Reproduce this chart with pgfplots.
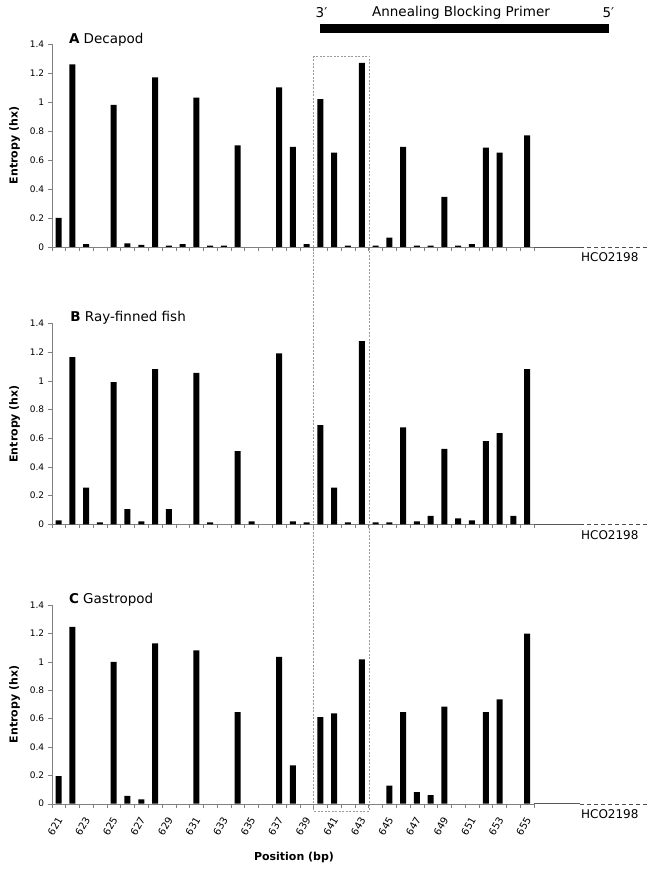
\documentclass[border=0pt]{standalone}
\usepackage{fontspec}
\setmainfont{DejaVu Sans}
\usepackage{pgfplots}
\pgfplotsset{compat=1.18}
\definecolor{axgray}{HTML}{808080}
\definecolor{boxgray}{HTML}{9A9A9A}

\pgfplotsset{
  panel/.style={
    scale only axis, width=482.3bp, anchor=south west,
    xmin=620.5, xmax=655.5, ymin=0, ymax=1.4,
    axis x line=bottom, axis y line=left,
    axis line style={-, axgray},
    xtick={620.5,621.5,...,655.5}, xticklabels={},
    ytick={0,0.2,0.4,0.6,0.8,1,1.2,1.4},
    tick align=outside, major tick length=4bp,
    tick style={axgray, thin},
    /pgf/number format/assume math mode=true,
    yticklabel style={font=\fontsize{9bp}{10bp}\selectfont},
    ylabel={Entropy (hx)},
    ylabel style={font=\fontsize{11bp}{13bp}\selectfont\bfseries,
      at={(axis description cs:-0.0771,0.5)}, anchor=center},
    ybar, bar width=6bp, clip=false,
  },
}
\tikzset{ttl/.style={anchor=west, font=\fontsize{13.5bp}{15bp}\selectfont}}

\begin{document}
\begin{tikzpicture}
\path[use as bounding box] (0,0) rectangle (652bp,870bp);

% A: Decapod
\begin{axis}[panel, at={(51.7bp,623bp)}, height=203bp]
\addplot[fill=black, draw=none] coordinates {
(621,0.20) (622,1.26) (623,0.02) (625,0.98) (626,0.025) (627,0.015)
(628,1.17) (629,0.01) (630,0.02) (631,1.03) (632,0.01) (633,0.01)
(634,0.70) (637,1.10) (638,0.69) (639,0.02) (640,1.02) (641,0.65)
(642,0.01) (643,1.27) (644,0.01) (645,0.065) (646,0.69) (647,0.01)
(648,0.01) (649,0.345) (650,0.01) (651,0.02) (652,0.685) (653,0.65)
(655,0.77)};
\node[ttl] at (axis cs:621.5,1.43) {\textbf{A} Decapod};
\draw[black!65, line width=0.8bp] (axis cs:655.5,0) -- (axis cs:658.84,0);
\draw[black!70, dash pattern=on 4bp off 3bp] (axis cs:658.84,0) -- (axis cs:663.7,0);
\node[anchor=east, font=\fontsize{12bp}{14bp}\selectfont] at (axis cs:663.34,-0.072) {HCO2198};
\draw[line width=9bp] (axis cs:640,1.505) -- (axis cs:660.94,1.505);
\node[font=\fontsize{13.5bp}{15bp}\selectfont] at (axis cs:640.08,1.614) {3′};
\node[font=\fontsize{13.5bp}{15bp}\selectfont] at (axis cs:650.2,1.614) {Annealing Blocking Primer};
\node[font=\fontsize{13.5bp}{15bp}\selectfont] at (axis cs:660.9,1.614) {5′};
\end{axis}

% B: Ray-finned fish
\begin{axis}[panel, at={(51.7bp,345.7bp)}, height=201bp]
\addplot[fill=black, draw=none] coordinates {
(621,0.028) (622,1.165) (623,0.255) (624,0.014) (625,0.99) (626,0.105)
(627,0.02) (628,1.08) (629,0.105) (631,1.055) (632,0.014) (634,0.51)
(635,0.02) (637,1.19) (638,0.02) (639,0.014) (640,0.69) (641,0.255)
(642,0.014) (643,1.275) (644,0.014) (645,0.014) (646,0.675) (647,0.02)
(648,0.058) (649,0.525) (650,0.042) (651,0.028) (652,0.58) (653,0.635)
(654,0.058) (655,1.08)};
\node[ttl] at (axis cs:621.6,1.44) {\textbf{B} Ray-finned fish};
\draw[black!65, line width=0.8bp] (axis cs:655.5,0) -- (axis cs:658.84,0);
\draw[black!70, dash pattern=on 4bp off 3bp] (axis cs:658.84,0) -- (axis cs:663.7,0);
\node[anchor=east, font=\fontsize{12bp}{14bp}\selectfont] at (axis cs:663.34,-0.074) {HCO2198};
\end{axis}

% C: Gastropod
\begin{axis}[panel, at={(51.7bp,66.3bp)}, height=198.7bp,
  extra x ticks={621,623,...,655},
  extra x tick labels={621,623,625,627,629,631,633,635,637,639,641,643,645,647,649,651,653,655},
  extra x tick style={major tick length=0pt,
    tick label style={font=\fontsize{10bp}{11bp}\selectfont,
      xshift=3bp, yshift=-11bp, rotate=60, anchor=east}},
  xlabel={Position (bp)},
  xlabel style={font=\fontsize{11bp}{13bp}\selectfont\bfseries,
    at={(axis description cs:0.5024,-0.273)}, anchor=center}]
\addplot[fill=black, draw=none] coordinates {
(621,0.195) (622,1.245) (625,1.0) (626,0.056) (627,0.03) (628,1.13)
(631,1.08) (634,0.645) (637,1.035) (638,0.27) (640,0.61) (641,0.637)
(643,1.017) (645,0.127) (646,0.645) (647,0.082) (648,0.061) (649,0.684)
(652,0.645) (653,0.735) (655,1.198)};
\node[ttl] at (axis cs:621.5,1.44) {\textbf{C} Gastropod};
\draw[black!65, line width=0.8bp] (axis cs:655.5,0) -- (axis cs:658.84,0);
\draw[black!70, dash pattern=on 4bp off 3bp] (axis cs:658.84,0) -- (axis cs:663.7,0);
\node[anchor=east, font=\fontsize{12bp}{14bp}\selectfont] at (axis cs:663.34,-0.074) {HCO2198};
\end{axis}

% dashed box round the primer region
\draw[boxgray, line width=0.7bp, dash pattern=on 2bp off 1.5bp]
  (313.5bp,814bp) rectangle (369.3bp,59bp);
\end{tikzpicture}
\end{document}
